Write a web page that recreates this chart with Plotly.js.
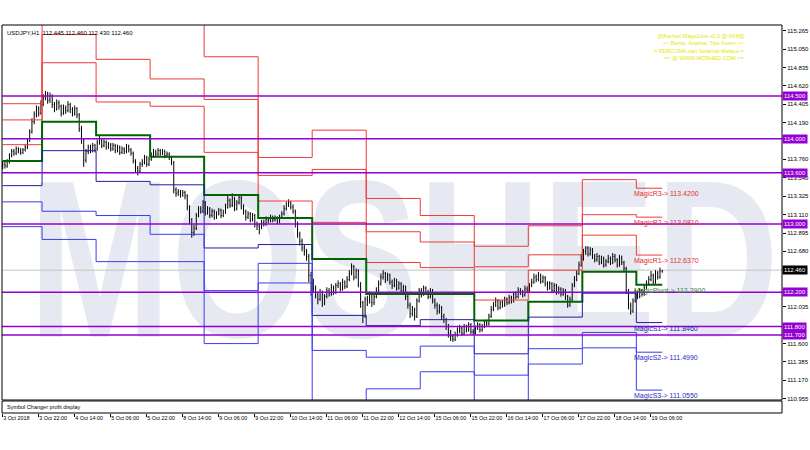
<!DOCTYPE html>
<html><head><meta charset="utf-8">
<script src="https://cdn.plot.ly/plotly-3.0.1.min.js"></script>
<style>html,body{margin:0;padding:0;background:#fff}#chart{width:810px;height:450px}</style>
</head><body><div id="chart"></div>
<script>
// ---- time axis (H1 bars, bar index) ----
const dayStart = [0,18,42,66,90,114,138,162,186,210,234,258,282];
const lastBar = 293;
const tickBars = [0,16,32,48,64,80,96,112,128,144,160,176,192,208,224,240,256,272,288];
const tickText = ['3 Oct 2018','3 Oct 22:00','4 Oct 14:00','5 Oct 06:00','5 Oct 22:00','8 Oct 14:00','9 Oct 06:00','9 Oct 22:00','10 Oct 14:00','11 Oct 06:00','11 Oct 22:00','12 Oct 14:00','15 Oct 06:00','15 Oct 22:00','16 Oct 14:00','17 Oct 06:00','17 Oct 22:00','18 Oct 14:00','19 Oct 06:00'];

// ---- USDJPY H1 prices ----
const firstOpen = 113.68;
const closeP = [113.70,113.68,113.73,113.80,113.85,113.83,113.88,113.86,113.84,113.87,113.90,113.98,114.08,114.20,114.28,114.35,114.30,114.40,114.48,114.52,114.45,114.50,114.40,114.35,114.42,114.38,114.30,114.36,114.33,114.40,114.34,114.30,114.35,114.28,114.12,113.98,113.75,113.85,113.90,113.86,113.92,113.88,113.95,113.98,113.92,113.96,113.90,113.93,113.88,113.92,113.86,113.90,113.84,113.88,113.85,113.91,113.87,113.83,113.74,113.65,113.62,113.70,113.72,113.78,113.70,113.76,113.80,113.84,113.82,113.86,113.83,113.85,113.80,113.82,113.78,113.72,113.40,113.36,113.38,113.34,113.37,113.33,113.20,113.05,112.90,112.95,113.10,113.18,113.15,113.25,113.13,113.18,113.10,113.15,113.08,113.12,113.16,113.10,113.14,113.20,113.28,113.22,113.30,113.18,113.25,113.31,113.20,113.15,113.08,113.12,113.05,113.10,113.00,112.98,112.96,113.02,113.00,113.06,113.04,113.08,113.05,113.07,113.03,113.08,113.12,113.18,113.22,113.25,113.20,113.15,113.00,112.88,112.80,112.72,112.68,112.62,112.40,112.32,112.25,112.18,112.12,112.20,112.08,112.15,112.22,112.18,112.26,112.20,112.28,112.30,112.24,112.32,112.27,112.35,112.42,112.50,112.38,112.45,112.30,112.08,111.92,112.12,112.10,112.18,112.08,112.15,112.22,112.30,112.38,112.42,112.35,112.40,112.32,112.28,112.34,112.25,112.30,112.22,112.26,112.15,112.05,111.95,112.00,111.92,112.10,112.22,112.18,112.25,112.20,112.15,112.22,112.10,112.05,111.98,112.02,111.92,111.88,111.80,111.72,111.68,111.65,111.70,111.75,111.78,111.72,111.80,111.76,111.82,111.74,111.73,111.78,111.82,111.76,111.80,111.85,111.83,111.92,112.00,112.05,112.10,112.02,112.08,112.05,112.12,112.08,112.14,112.10,112.18,112.15,112.22,112.20,112.17,112.24,112.22,112.28,112.32,112.38,112.35,112.40,112.33,112.37,112.30,112.25,112.30,112.22,112.28,112.20,112.24,112.18,112.22,112.15,112.05,112.12,112.28,112.35,112.42,112.52,112.60,112.68,112.72,112.65,112.70,112.62,112.58,112.62,112.55,112.60,112.52,112.56,112.60,112.55,112.62,112.58,112.52,112.60,112.55,112.48,112.22,112.05,111.98,112.10,112.19,112.15,112.22,112.18,112.26,112.30,112.35,112.40,112.32,112.42,112.38,112.45,112.46];
const highP = [113.74,113.73,113.76,113.83,113.88,113.88,113.91,113.90,113.89,113.89,113.93,114.00,114.11,114.24,114.32,114.39,114.38,114.45,114.52,114.56,114.55,114.54,114.52,114.43,114.46,114.45,114.40,114.40,114.39,114.44,114.42,114.37,114.39,114.37,114.30,114.15,114.00,113.88,113.93,113.93,113.95,113.94,113.99,114.03,114.00,113.99,113.98,113.96,113.95,113.95,113.94,113.93,113.92,113.91,113.90,113.94,113.93,113.89,113.85,113.76,113.68,113.73,113.76,113.81,113.80,113.79,113.84,113.88,113.87,113.89,113.88,113.88,113.87,113.85,113.84,113.80,113.74,113.43,113.41,113.40,113.40,113.39,113.35,113.22,113.07,112.99,113.13,113.21,113.21,113.28,113.27,113.21,113.20,113.18,113.17,113.15,113.19,113.18,113.17,113.24,113.33,113.30,113.36,113.32,113.28,113.35,113.33,113.23,113.17,113.15,113.14,113.13,113.12,113.03,113.01,113.05,113.05,113.09,113.08,113.11,113.10,113.10,113.09,113.11,113.15,113.22,113.26,113.29,113.27,113.23,113.17,113.03,112.91,112.83,112.76,112.71,112.65,112.44,112.36,112.28,112.21,112.24,112.22,112.18,112.26,112.25,112.30,112.28,112.31,112.34,112.32,112.36,112.34,112.39,112.46,112.54,112.52,112.48,112.47,112.32,112.10,112.15,112.16,112.21,112.20,112.18,112.26,112.34,112.42,112.46,112.44,112.43,112.42,112.35,112.37,112.36,112.33,112.32,112.29,112.28,112.17,112.08,112.04,112.02,112.13,112.25,112.25,112.28,112.27,112.23,112.25,112.24,112.13,112.08,112.06,112.04,111.95,111.90,111.83,111.76,111.71,111.74,111.79,111.82,111.80,111.83,111.82,111.85,111.84,111.77,111.81,111.85,111.84,111.83,111.88,111.88,111.95,112.04,112.09,112.14,112.12,112.11,112.11,112.15,112.14,112.17,112.16,112.21,112.21,112.26,112.25,112.23,112.28,112.27,112.31,112.36,112.42,112.41,112.44,112.42,112.40,112.39,112.33,112.33,112.32,112.31,112.30,112.27,112.26,112.25,112.24,112.17,112.15,112.31,112.39,112.46,112.56,112.65,112.71,112.74,112.74,112.73,112.72,112.65,112.66,112.64,112.63,112.62,112.59,112.64,112.62,112.66,112.65,112.60,112.64,112.63,112.57,112.50,112.24,112.08,112.13,112.23,112.22,112.25,112.24,112.29,112.34,112.39,112.45,112.42,112.46,112.45,112.49,112.46];
const lowP = [113.64,113.65,113.66,113.71,113.78,113.80,113.81,113.83,113.81,113.82,113.85,113.88,113.96,114.06,114.17,114.25,114.26,114.28,114.38,114.45,114.41,114.42,114.36,114.31,114.33,114.34,114.26,114.28,114.29,114.31,114.30,114.26,114.27,114.24,114.08,113.94,113.67,113.72,113.82,113.83,113.84,113.84,113.86,113.93,113.89,113.90,113.87,113.88,113.85,113.86,113.83,113.84,113.81,113.82,113.82,113.83,113.84,113.80,113.71,113.61,113.57,113.60,113.67,113.70,113.67,113.68,113.74,113.78,113.79,113.80,113.80,113.81,113.77,113.78,113.75,113.69,113.36,113.32,113.33,113.31,113.32,113.29,113.16,113.00,112.84,112.86,112.93,113.08,113.12,113.13,113.10,113.11,113.07,113.08,113.05,113.06,113.10,113.07,113.08,113.12,113.18,113.19,113.20,113.15,113.16,113.23,113.17,113.11,113.04,113.06,113.02,113.03,112.96,112.93,112.88,112.94,112.97,112.98,113.01,113.02,113.02,113.03,113.00,113.01,113.06,113.10,113.16,113.20,113.17,113.12,112.96,112.84,112.75,112.68,112.63,112.57,112.32,112.16,112.20,112.13,112.06,112.10,112.03,112.05,112.13,112.15,112.16,112.17,112.18,112.25,112.21,112.22,112.24,112.25,112.33,112.40,112.34,112.36,112.26,112.02,111.84,111.90,112.04,112.07,112.03,112.05,112.13,112.20,112.28,112.35,112.31,112.33,112.29,112.24,112.26,112.22,112.23,112.19,112.19,112.11,112.01,111.90,111.92,111.87,111.90,112.08,112.14,112.16,112.17,112.12,112.13,112.07,112.01,111.94,111.95,111.88,111.84,111.76,111.67,111.63,111.62,111.63,111.68,111.72,111.69,111.70,111.73,111.74,111.71,111.70,111.71,111.76,111.73,111.74,111.78,111.80,111.81,111.90,111.98,112.03,111.99,112.00,112.02,112.03,112.05,112.06,112.07,112.08,112.12,112.13,112.17,112.14,112.15,112.19,112.20,112.26,112.30,112.32,112.33,112.30,112.31,112.27,112.22,112.23,112.19,112.20,112.17,112.18,112.15,112.16,112.11,112.02,112.03,112.10,112.26,112.33,112.40,112.50,112.57,112.64,112.62,112.63,112.59,112.55,112.56,112.52,112.53,112.49,112.50,112.54,112.52,112.53,112.55,112.49,112.50,112.52,112.44,112.18,112.00,111.94,111.96,112.08,112.12,112.13,112.15,112.16,112.24,112.28,112.33,112.29,112.30,112.35,112.36,112.43];

// ---- daily MagicLine levels (one value per day) ----
const lvR3 = [114.41,115.90,115.37,115.40,114.96,113.78,114.10,113.30,113.10,112.74,112.98,113.52,113.42];
const lvR2 = [114.22,115.22,114.93,114.70,114.46,113.57,113.64,112.91,112.79,112.50,112.64,113.11,113.081];
const lvR1 = [113.93,114.89,114.43,114.38,113.84,113.27,113.02,112.55,112.49,112.11,112.46,112.87,112.637];
const lvP  = [113.74,114.20,114.04,113.79,113.34,113.07,112.59,112.18,112.18,111.87,112.09,112.44,112.29];
const lvS1 = [113.45,113.86,113.50,113.46,112.72,112.76,111.93,111.81,111.88,111.48,111.91,112.19,111.846];
const lvS2 = [113.26,113.15,113.10,112.88,112.22,112.54,111.52,111.44,111.57,111.23,111.54,111.73,111.499];
const lvS3 = [112.97,112.82,112.56,112.56,111.60,112.31,110.90,111.07,111.27,110.84,111.36,111.55,111.055];

// ---- horizontal objects ----
const hLevels = [114.5,114.0,113.6,113.0,112.2,111.8,111.7];
const curPrice = 112.46;
const yTicks = [115.265,115.050,114.835,114.620,114.405,114.190,113.760,113.540,113.325,113.110,112.895,112.680,112.035,111.600,111.385,111.170,110.955];
const infoLines = ['[[Moshed MagicLine v2.0 @ AKM]]','>> Berita, Analisa, Tips Forex <<','= PERCUMA dan Selamat Melayu =','=> @ WWW.MOSHED.COM <='];
const watermark = 'MOSHED';

// ---------------------------------------------------
const idx = closeP.map((_, i) => i);
const openP = closeP.map((c, i) => i === 0 ? firstOpen : closeP[i - 1]);
const stepX = dayStart.map((s, k) => k === 0 ? s : s - 0.5).concat([lastBar]);
const stepY = arr => arr.concat([arr[arr.length - 1]]);

const levelDefs = [
  {name:'MagicR3', v:lvR3, c:'#f03a3a', w:1, lc:'#e03030'},
  {name:'MagicR2', v:lvR2, c:'#f03a3a', w:1, lc:'#e03030'},
  {name:'MagicR1', v:lvR1, c:'#f03a3a', w:1, lc:'#e03030'},
  {name:'MagicPivot', v:lvP, c:'#006400', w:2, lc:'#2e8b2e'},
  {name:'MagicS1', v:lvS1, c:'#1e1ea0', w:1, lc:'#2424b0'},
  {name:'MagicS2', v:lvS2, c:'#3c3cf0', w:1, lc:'#2a2ac8'},
  {name:'MagicS3', v:lvS3, c:'#3c3cf0', w:1, lc:'#2a2ac8'}
];

const traces = levelDefs.map(d => ({
  type:'scatter', mode:'lines', x:stepX, y:stepY(d.v), xaxis:'x', yaxis:'y',
  line:{color:d.c, width:d.w, shape:'hv'}, hoverinfo:'skip', showlegend:false
}));
traces.push({
  type:'ohlc', x:idx, open:openP, high:highP, low:lowP, close:closeP, xaxis:'x', yaxis:'y',
  increasing:{line:{color:'#000000', width:1}}, decreasing:{line:{color:'#000000', width:1}},
  tickwidth:0.25, hoverinfo:'skip', showlegend:false
});
traces.push({type:'scatter', mode:'lines', x:[0], y:[0.5], xaxis:'x', yaxis:'y2', line:{width:0}, hoverinfo:'skip', showlegend:false});

const FONT = 'Liberation Sans, Arial, sans-serif';
const shapes = [];
// watermark (drawn below the price bars)
shapes.push({type:'rect', xref:'paper', yref:'paper', x0:0.03, x1:1.0, y0:0.25, y1:0.65, layer:'below',
  line:{width:0}, fillcolor:'rgba(0,0,0,0)',
  label:{text:watermark, textposition:'middle center', font:{family:'Liberation Sans, Arial, sans-serif', size:225, color:'#e6e9f1', weight:'bold'}}});
// current price line
shapes.push({type:'line', xref:'paper', yref:'y', x0:0, x1:1, y0:curPrice, y1:curPrice, layer:'below', line:{color:'#c4c4c4', width:1}});
// purple horizontal levels
hLevels.forEach(v => shapes.push({type:'line', xref:'paper', yref:'y', x0:0, x1:1, y0:v, y1:v, layer:'above', line:{color:'#9400d3', width:1.5}}));
// window frames
shapes.push({type:'rect', xref:'paper', yref:'paper', x0:0, x1:1, y0:0.0335, y1:1, line:{color:'#000', width:1}, fillcolor:'rgba(0,0,0,0)', layer:'above'});
shapes.push({type:'rect', xref:'paper', yref:'paper', x0:0, x1:1, y0:0, y1:0.031, line:{color:'#000', width:1}, fillcolor:'rgba(0,0,0,0)', layer:'above'});

const annotations = [];
annotations.push({xref:'paper', yref:'paper', x:0.004, y:0.993, xanchor:'left', yanchor:'top', showarrow:false,
  text:'USDJPY,H1  112.445 112.460 112.430 112.460', font:{family:FONT, size:6, color:'#000'}});
annotations.push({xref:'paper', yref:'paper', x:0.954, y:0.984, xanchor:'right', yanchor:'top', align:'right', showarrow:false,
  text:infoLines.join('<br>'), font:{family:FONT, size:5.6, color:'#e6e600'}});
annotations.push({xref:'paper', yref:'paper', x:0.004, y:0.016, xanchor:'left', yanchor:'middle', showarrow:false,
  text:'Symbol Changer profit display', font:{family:FONT, size:5.5, color:'#000'}});
// magic labels for last day
levelDefs.forEach(d => {
  const v = d.v[d.v.length - 1];
  annotations.push({xref:'x', yref:'y', x:279.5, y:v, xanchor:'left', yanchor:'top', showarrow:false,
    text:d.name + '-> ' + v.toFixed(4), font:{family:FONT, size:7, color:d.lc}});
});
// axis boxes
hLevels.forEach(v => annotations.push({xref:'paper', yref:'y', x:1.0, y:v, xanchor:'left', yanchor:'middle', showarrow:false,
  text:v.toFixed(3), bgcolor:'#9400d3', borderpad:1, font:{family:FONT, size:6, color:'#fff'}}));
annotations.push({xref:'paper', yref:'y', x:1.0, y:curPrice, xanchor:'left', yanchor:'middle', showarrow:false,
  text:curPrice.toFixed(3), bgcolor:'#000', borderpad:1, font:{family:FONT, size:6, color:'#fff'}});

const layout = {
  width:810, height:450,
  margin:{l:2, r:28, t:25, b:37},
  paper_bgcolor:'#fff', plot_bgcolor:'#fff',
  showlegend:false,
  xaxis:{range:[-0.3, 346.2], anchor:'y2', tickvals:tickBars, ticktext:tickText, tickangle:0, ticks:'outside', ticklen:3, tickcolor:'#000',
    ticklabelposition:'outside right', tickfont:{family:FONT, size:5.4, color:'#000'}, showgrid:false, zeroline:false, showline:false,
    rangeslider:{visible:false}, fixedrange:true},
  yaxis:{domain:[0.0335,1], range:[110.939,115.332], side:'right', anchor:'x', tickvals:yTicks, tickformat:'.3f',
    ticks:'outside', ticklen:3, tickcolor:'#000', tickfont:{family:FONT, size:6, color:'#000'}, showgrid:false, zeroline:false, showline:false, fixedrange:true},
  yaxis2:{domain:[0,0.031], range:[0,1], side:'right', anchor:'x', showticklabels:false, ticks:'', showgrid:false, zeroline:false, showline:false, fixedrange:true},
  shapes:shapes, annotations:annotations
};
Plotly.newPlot('chart', traces, layout, {displayModeBar:false, staticPlot:true}).then(gd => {
  // condense the watermark lettering horizontally, like the original's narrow logo type
  gd.querySelectorAll('.shapelayer text').forEach(t => {
    if (t.textContent !== watermark) return;
    const bb = t.getBBox();
    const cx = bb.x + bb.width / 2;
    const prev = t.getAttribute('transform') || '';
    t.setAttribute('transform', 'translate(' + cx + ',0) scale(0.76,1) translate(' + (-cx) + ',0) ' + prev);
  });
});
</script></body></html>
